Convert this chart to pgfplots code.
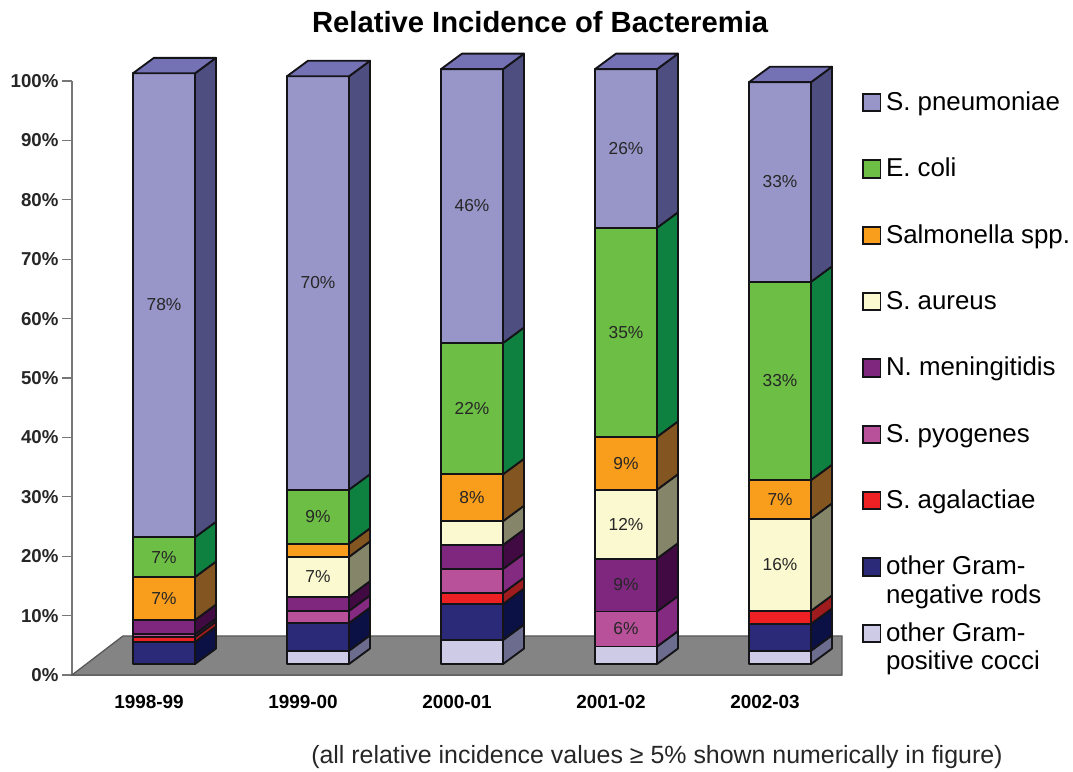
\documentclass[border=0pt]{standalone}
\usepackage{fontspec}
\setmainfont{Liberation Sans}
\usepackage{pgfplots}
\pgfplotsset{compat=1.18}
\definecolor{pn}{HTML}{9896C8}\definecolor{pns}{HTML}{4E4E80}\definecolor{pnt}{HTML}{7472B5}
\definecolor{ec}{HTML}{6CBE45}\definecolor{ecs}{HTML}{0E8040}
\definecolor{sa}{HTML}{F99D1C}\definecolor{sas}{HTML}{835520}
\definecolor{au}{HTML}{FBF9D0}\definecolor{aus}{HTML}{85856A}
\definecolor{me}{HTML}{7F267F}\definecolor{mes}{HTML}{420A42}
\definecolor{py}{HTML}{B8509A}\definecolor{pys}{HTML}{842A80}
\definecolor{ag}{HTML}{ED2024}\definecolor{ags}{HTML}{9E1B1E}
\definecolor{gn}{HTML}{2A2A78}\definecolor{gns}{HTML}{0B1045}
\definecolor{gp}{HTML}{CDCBE6}\definecolor{gps}{HTML}{6C6C8E}
\definecolor{floorc}{HTML}{848484}\definecolor{axc}{HTML}{777777}
\newcommand\seg[6]{%
  \pgfmathsetmacro\xa{#1-0.104}\pgfmathsetmacro\xb{#1+0.299}\pgfmathsetmacro\xc{#1+0.435}%
  \pgfmathsetmacro\ya{#2+2.6}\pgfmathsetmacro\yb{#3+2.6}%
  \edef\tmp{\noexpand\addplot[forget plot,fill=#5,draw=barline,line width=1.4pt,line join=round] coordinates {(\xb,#2)(\xc,\ya)(\xc,\yb)(\xb,#3)} -- cycle;
  \noexpand\addplot[forget plot,fill=#4,draw=barline,line width=1.4pt,line join=round] coordinates {(\xa,#2)(\xb,#2)(\xb,#3)(\xa,#3)} -- cycle;}\tmp}
\newcommand\topf[2]{%
  \pgfmathsetmacro\xa{#1-0.104}\pgfmathsetmacro\xb{#1+0.299}\pgfmathsetmacro\xc{#1+0.435}\pgfmathsetmacro\xd{#1+0.032}%
  \pgfmathsetmacro\ya{#2+2.6}%
  \edef\tmp{\noexpand\addplot[forget plot,fill=pnt,draw=barline,line width=1.4pt,line join=round] coordinates {(\xa,#2)(\xb,#2)(\xc,\ya)(\xd,\ya)} -- cycle;}\tmp}
\newcommand\lab[3]{\pgfmathsetmacro\xa{#1+0.0975}\edef\tmp{\noexpand\node[font=\noexpand\fontsize{13}{14}\noexpand\selectfont,text=black!85] at (axis cs:\xa,#2) {#3\noexpand\%};}\tmp}
\definecolor{barline}{HTML}{141418}
\newcommand\lgd[1]{\smash{\begin{tabular}[t]{@{}l@{}}#1\end{tabular}}}
\begin{document}
\begin{tikzpicture}[x=1pt,y=1pt]
\path[use as bounding box] (0,0) rectangle (804.75,578.25);
\begin{axis}[
  at={(54pt,72pt)},anchor=south west,
  scale only axis,width=577.5pt,height=445.5pt,
  xmin=-0.5,xmax=4.5,ymin=0,ymax=100,clip=false,
  axis y line*=left,axis x line*=bottom,
  axis line style={draw=axc,line width=1pt},
  tick style={draw=axc,line width=1pt},
  tick align=outside,major tick length=7.5pt,
  ytick={0,10,...,100},
  yticklabels={0\%,10\%,20\%,30\%,40\%,50\%,60\%,70\%,80\%,90\%,100\%},
  yticklabel style={font=\bfseries\fontsize{14}{15}\selectfont,inner sep=0pt,xshift=-2.5pt,text=black!85},
  xtick={0,1,2,3,4},
  xticklabels={1998-99,1999-00,2000-01,2001-02,2002-03},
  x tick style={draw=none},
  xticklabel style={font=\bfseries\fontsize{14.2}{15}\selectfont,inner sep=0pt,yshift=-7.5pt},
  extra x ticks={-0.5,0.5,1.5,2.5,3.5,4.5},
  extra x tick labels={},
  extra x tick style={tick style={draw=axc,line width=1pt},major tick length=7.5pt},
  title={Relative Incidence of Bacteremia},
  title style={at={(0.608,1.086)},anchor=center,font=\bfseries\fontsize{21.9}{24}\selectfont},
  legend style={at={(1.026,0.98)},anchor=north west,draw=none,fill=none,inner sep=0pt,
    font=\fontsize{19.4}{21.5}\selectfont,
    /tikz/row sep=33.35pt,/tikz/column sep=1.5pt},
  legend cell align=left,
  legend image code/.code={\draw[#1,line width=1.3pt,draw=barline] (0pt,0pt) rectangle (13pt,13pt);},
]
\addplot[forget plot,fill=floorc,draw=black!65,line width=1pt] coordinates {(-0.5,0)(-0.169,6.57)(4.5,6.57)(4.5,0)} -- cycle;
% 1998-99
\seg{0}{1.85}{5.56}{gn}{gns}{}\seg{0}{5.56}{6.4}{ag}{ags}{}\seg{0}{6.4}{6.9}{py}{pys}{}\seg{0}{6.9}{9.26}{me}{mes}{}
\seg{0}{9.26}{16.5}{sa}{sas}{}\seg{0}{16.5}{23.2}{ec}{ecs}{}\seg{0}{23.2}{101.3}{pn}{pns}{}\topf{0}{101.3}
\lab{0}{62.3}{78}\lab{0}{19.85}{7}\lab{0}{12.9}{7}
% 1999-00
\seg{1}{1.85}{4.09}{gp}{gps}{}\seg{1}{4.09}{8.75}{gn}{gns}{}\seg{1}{8.75}{10.8}{py}{pys}{}\seg{1}{10.8}{13.2}{me}{mes}{}
\seg{1}{13.2}{19.9}{au}{aus}{}\seg{1}{19.9}{22.1}{sa}{sas}{}\seg{1}{22.1}{31.2}{ec}{ecs}{}\seg{1}{31.2}{100.8}{pn}{pns}{}\topf{1}{100.8}
\lab{1}{66}{70}\lab{1}{26.65}{9}\lab{1}{16.55}{7}
% 2000-01
\seg{2}{1.85}{5.89}{gp}{gps}{}\seg{2}{5.89}{11.95}{gn}{gns}{}\seg{2}{11.95}{13.8}{ag}{ags}{}\seg{2}{13.8}{17.85}{py}{pys}{}
\seg{2}{17.85}{21.9}{me}{mes}{}\seg{2}{21.9}{25.9}{au}{aus}{}\seg{2}{25.9}{33.8}{sa}{sas}{}\seg{2}{33.8}{55.9}{ec}{ecs}{}\seg{2}{55.9}{102}{pn}{pns}{}\topf{2}{102}
\lab{2}{79}{46}\lab{2}{44.85}{22}\lab{2}{29.85}{8}
% 2001-02
\seg{3}{1.85}{4.79}{gp}{gps}{}\seg{3}{4.79}{10.7}{py}{pys}{}\seg{3}{10.7}{19.6}{me}{mes}{}\seg{3}{19.6}{31.2}{au}{aus}{}
\seg{3}{31.2}{40.1}{sa}{sas}{}\seg{3}{40.1}{75.3}{ec}{ecs}{}\seg{3}{75.3}{102}{pn}{pns}{}\topf{3}{102}
\lab{3}{88.65}{26}\lab{3}{57.7}{35}\lab{3}{35.65}{9}\lab{3}{25.4}{12}\lab{3}{15.15}{9}\lab{3}{7.75}{6}
% 2002-03
\seg{4}{1.85}{4.09}{gp}{gps}{}\seg{4}{4.09}{8.6}{gn}{gns}{}\seg{4}{8.6}{10.8}{ag}{ags}{}\seg{4}{10.8}{26.3}{au}{aus}{}
\seg{4}{26.3}{32.8}{sa}{sas}{}\seg{4}{32.8}{66.2}{ec}{ecs}{}\seg{4}{66.2}{99.8}{pn}{pns}{}\topf{4}{99.8}
\lab{4}{83}{33}\lab{4}{49.5}{33}\lab{4}{29.55}{7}\lab{4}{18.55}{16}
% legend
\addlegendimage{fill=pn}\addlegendentry{\lgd{S.\ pneumoniae}}
\addlegendimage{fill=ec}\addlegendentry{\lgd{E.\ coli}}
\addlegendimage{fill=sa}\addlegendentry{\lgd{Salmonella spp.}}
\addlegendimage{fill=au}\addlegendentry{\lgd{S.\ aureus}}
\addlegendimage{fill=me}\addlegendentry{\lgd{N.\ meningitidis}}
\addlegendimage{fill=py}\addlegendentry{\lgd{S.\ pyogenes}}
\addlegendimage{fill=ag}\addlegendentry{\lgd{S.\ agalactiae}}
\addlegendimage{fill=gn}\addlegendentry{\lgd{other Gram-\\negative rods}}
\addlegendimage{fill=gp}\addlegendentry{\lgd{other Gram-\\positive cocci}}
\end{axis}
\node[anchor=base west,inner sep=0pt,font=\fontsize{18.7}{20}\selectfont,text=black!85] at (233.25,6) {(all relative incidence values ≥ 5\% shown numerically in figure)};
\end{tikzpicture}
\end{document}
